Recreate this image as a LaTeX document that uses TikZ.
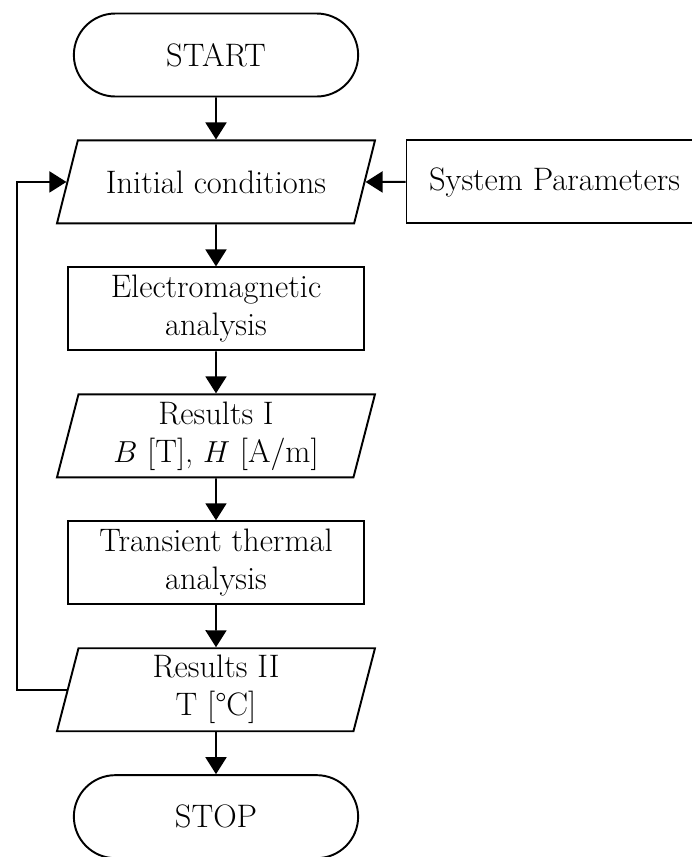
\documentclass[tikz,border=0pt]{standalone}
\usepackage{fontspec}
\usetikzlibrary{arrows.meta, positioning, shapes.geometric, shapes.misc}

\begin{document}
\begin{tikzpicture}[
    node distance=0.84cm and 0.8cm,
    terminal/.style={
        draw,
        rounded rectangle,
        minimum width=5.92cm,
        minimum height=1.66cm,
        line width=1.1pt,
        font=\fontsize{18.5}{21.6}\selectfont
    },
    process/.style={
        draw,
        rectangle,
        align=center,
        minimum width=5.92cm,
        minimum height=1.66cm,
        line width=1.1pt,
        font=\fontsize{18.5}{21.6}\selectfont
    },
    io/.style={
        draw,
        trapezium,
        trapezium left angle=75,
        trapezium right angle=105,
        trapezium stretches body,
        align=center,
        minimum width=6.36cm,
        minimum height=1.66cm,
        line width=1.1pt,
        font=\fontsize{18.5}{21.6}\selectfont
    },
    arrow/.style={
        -{Triangle[length=0.34cm, width=0.42cm]},
        line width=1.1pt
    }
]
\useasboundingbox (0,0) rectangle (13.84,-17.14);

% Nodes
\node (start) [terminal] at (4.32,-1.1) {START};
\node (init) [io, inner ysep=0.55cm, below=of start] {Initial conditions};
\node (params) [process, right=of init] {System Parameters};
\node (em) [process, below=of init] {Electromagnetic\\analysis};
\node (res1) [io, below=of em] {Results I\\$B$ [T], $H$ [A/m]};
\node (thermal) [process, below=of res1] {Transient thermal\\analysis};
\node (res2) [io, below=of thermal] {Results II\\T [°C]};
\node (stop) [terminal, below=of res2] {STOP};
\coordinate (back) at (0.34,0);

% Paths
\draw [arrow] (start) -- (init);
\draw [arrow] (params) -- (init);
\draw [arrow] (init) -- (em);
\draw [arrow] (em) -- (res1);
\draw [arrow] (res1) -- (thermal);
\draw [arrow] (thermal) -- (res2);
\draw [arrow] (res2) -- (stop);
\draw [arrow] (res2.west) -| (back |- res2.west) |- (init.west);

\end{tikzpicture}
\end{document}
